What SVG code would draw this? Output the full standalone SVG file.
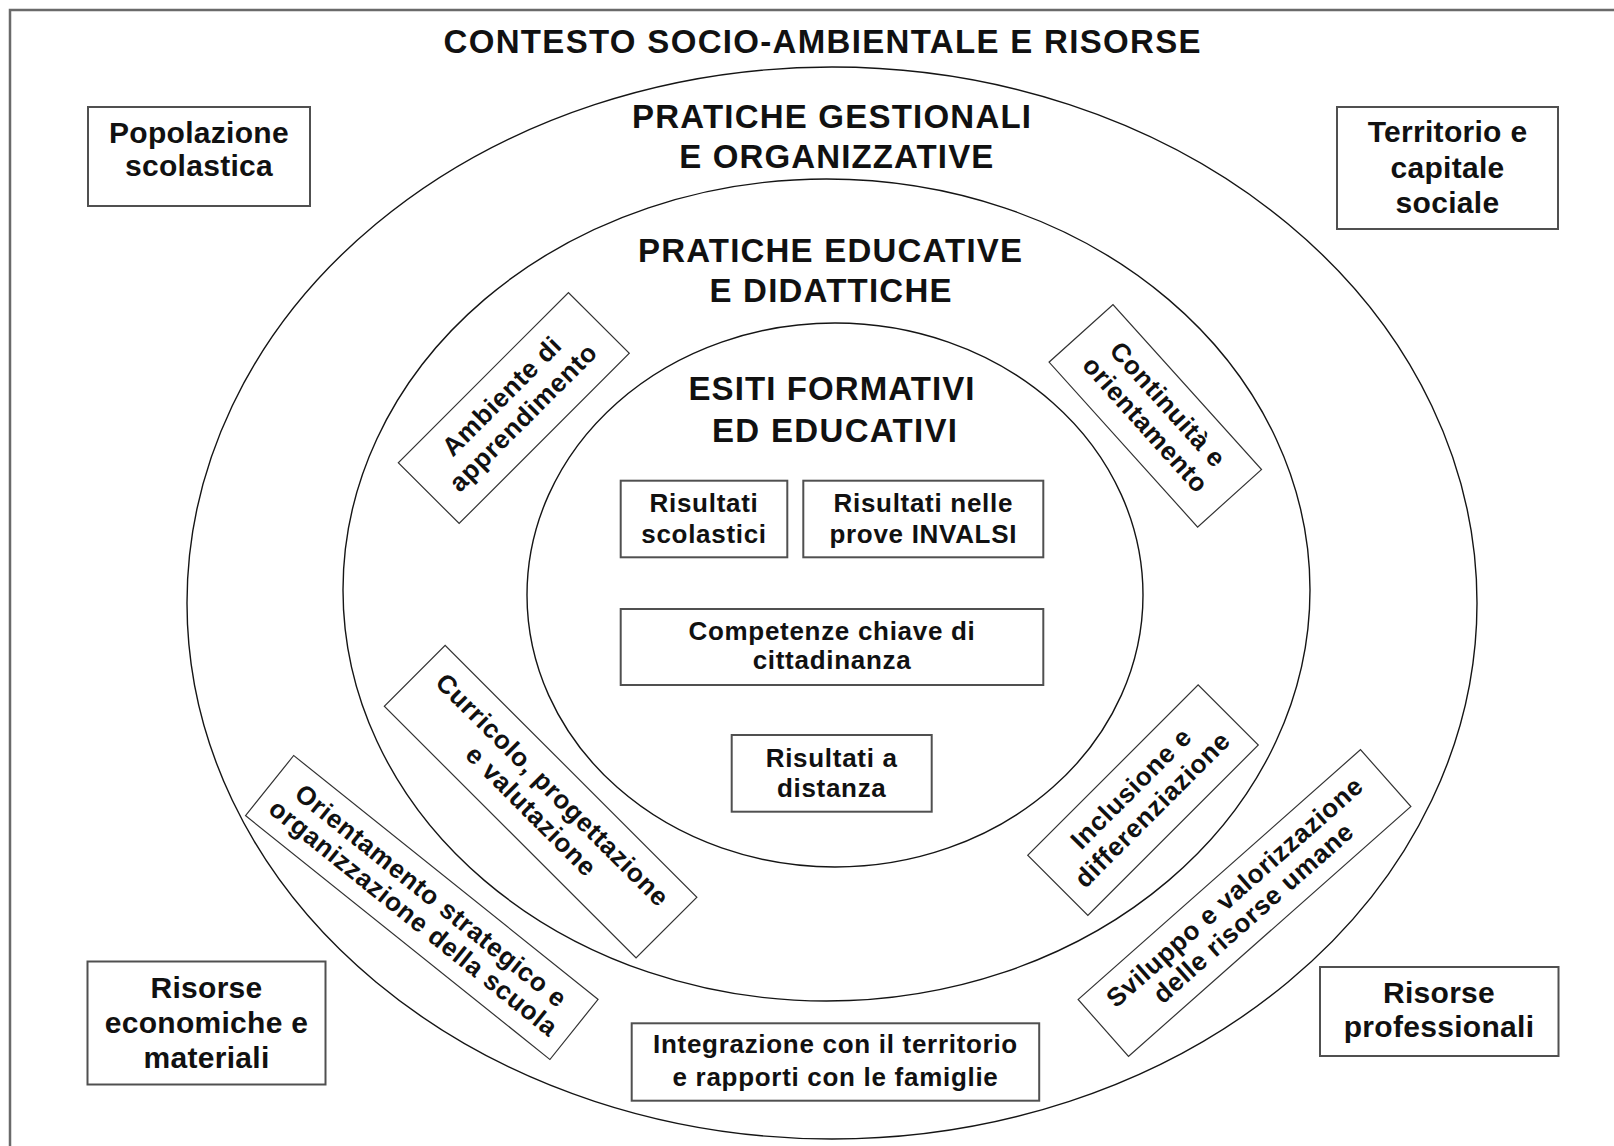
<svg xmlns="http://www.w3.org/2000/svg" width="1614" height="1146" viewBox="0 0 1614 1146">
<style>
.bg{fill:#ffffff}
.frame{fill:none;stroke:#6a6a6a;stroke-width:2.5}
.ring{fill:none;stroke:#151515;stroke-width:1.4}
.box{fill:#ffffff;stroke:#505050;stroke-width:2}
.rbox{fill:#ffffff;stroke:#333333;stroke-width:1.2}
text{font-family:"Liberation Sans",Arial,sans-serif;font-weight:bold;fill:#111111;text-anchor:middle}
.title{font-size:33px}
.big{font-size:30px;letter-spacing:0.3px}
.mid{font-size:26px;letter-spacing:0.7px}
</style>
<rect class="bg" x="0" y="0" width="1614" height="1146"/>
<rect class="frame" x="10" y="10" width="1640" height="1180"/>

<g id="rings">
  <ellipse id="ring-gestionali" class="ring" cx="832" cy="603" rx="645" ry="536"/>
  <ellipse id="ring-educative" class="ring" cx="826.5" cy="590" rx="483.5" ry="411"/>
  <ellipse id="ring-esiti" class="ring" cx="835" cy="595" rx="308" ry="272"/>
</g>

<g id="titles">
  <text class="title" x="822" y="52.5" textLength="757" lengthAdjust="spacing">CONTESTO SOCIO-AMBIENTALE E RISORSE</text>
  <text class="title" x="831.5" y="128.3" textLength="399" lengthAdjust="spacing">PRATICHE GESTIONALI</text>
  <text class="title" x="836.3" y="168.3" textLength="314" lengthAdjust="spacing">E ORGANIZZATIVE</text>
  <text class="title" x="830" y="261.7" textLength="384" lengthAdjust="spacing">PRATICHE EDUCATIVE</text>
  <text class="title" x="830.5" y="301.7" textLength="242" lengthAdjust="spacing">E DIDATTICHE</text>
  <text class="title" x="831.5" y="400.2" textLength="286" lengthAdjust="spacing">ESITI FORMATIVI</text>
  <text class="title" x="834.5" y="442" textLength="245" lengthAdjust="spacing">ED EDUCATIVI</text>
</g>

<g id="popolazione">
  <rect class="box" x="88" y="107" width="222" height="99"/>
  <text class="big" x="199" y="142.5">Popolazione</text>
  <text class="big" x="199" y="176">scolastica</text>
</g>
<g id="territorio">
  <rect class="box" x="1337" y="107" width="221" height="122"/>
  <text class="big" x="1447.5" y="142">Territorio e</text>
  <text class="big" x="1447.5" y="178">capitale</text>
  <text class="big" x="1447.5" y="213">sociale</text>
</g>
<g id="risorse-economiche">
  <rect class="box" x="87.5" y="961.5" width="238" height="123"/>
  <text class="big" x="206.5" y="997.5">Risorse</text>
  <text class="big" x="206.5" y="1033">economiche e</text>
  <text class="big" x="206.5" y="1068">materiali</text>
</g>
<g id="risorse-professionali">
  <rect class="box" x="1320" y="967" width="238.5" height="89"/>
  <text class="big" x="1439" y="1002.5">Risorse</text>
  <text class="big" x="1439" y="1037">professionali</text>
</g>
<g id="integrazione">
  <rect class="box" x="631.7" y="1023.3" width="407.5" height="77.4"/>
  <text class="mid" x="835.5" y="1052.7">Integrazione con il territorio</text>
  <text class="mid" x="835.5" y="1086">e rapporti con le famiglie</text>
</g>
<g id="risultati-scolastici">
  <rect class="box" x="620.7" y="480.7" width="166.6" height="76.6"/>
  <text class="mid" x="704" y="511.7">Risultati</text>
  <text class="mid" x="704" y="542.7">scolastici</text>
</g>
<g id="risultati-invalsi">
  <rect class="box" x="803.3" y="480.7" width="240" height="76.6"/>
  <text class="mid" x="923.3" y="511.7">Risultati nelle</text>
  <text class="mid" x="923.3" y="542.7">prove INVALSI</text>
</g>
<g id="competenze">
  <rect class="box" x="620.7" y="609" width="422.6" height="76"/>
  <text class="mid" x="832" y="640">Competenze chiave di</text>
  <text class="mid" x="832" y="669">cittadinanza</text>
</g>
<g id="risultati-distanza">
  <rect class="box" x="731.7" y="735" width="200" height="76.7"/>
  <text class="mid" x="831.7" y="766.7">Risultati a</text>
  <text class="mid" x="831.7" y="796.7">distanza</text>
</g>

<g id="ambiente" transform="translate(513.8,408) rotate(-45)">
  <rect class="rbox" x="-120.3" y="-43" width="240.6" height="86"/>
  <text class="mid" x="0" y="-8">Ambiente di</text>
  <text class="mid" x="0" y="22">apprendimento</text>
</g>
<g id="continuita" transform="translate(1155.3,415.8) rotate(48)">
  <rect class="rbox" x="-111" y="-43" width="222" height="86"/>
  <text class="mid" x="0" y="-8">Continuità e</text>
  <text class="mid" x="0" y="22">orientamento</text>
</g>
<g id="curricolo" transform="translate(540.6,801.7) rotate(45)">
  <rect class="rbox" x="-178" y="-43" width="356" height="86"/>
  <text class="mid" x="0" y="-8">Curricolo, progettazione</text>
  <text class="mid" x="0" y="22">e valutazione</text>
</g>
<g id="orientamento" transform="translate(421.8,907.5) rotate(38.7)">
  <rect class="rbox" x="-195" y="-38.5" width="390" height="77"/>
  <text class="mid" x="0" y="-6">Orientamento strategico e</text>
  <text class="mid" x="0" y="22">organizzazione della scuola</text>
</g>
<g id="inclusione" transform="translate(1143,800.2) rotate(-45)">
  <rect class="rbox" x="-120.5" y="-42.5" width="241" height="85"/>
  <text class="mid" x="0" y="-8">Inclusione e</text>
  <text class="mid" x="0" y="22">differenziazione</text>
</g>
<g id="sviluppo" transform="translate(1244.5,903) rotate(-41.5)">
  <rect class="rbox" x="-188.5" y="-38" width="377" height="76"/>
  <text class="mid" x="0" y="-6">Sviluppo e valorizzazione</text>
  <text class="mid" x="0" y="22">delle risorse umane</text>
</g>
</svg>
